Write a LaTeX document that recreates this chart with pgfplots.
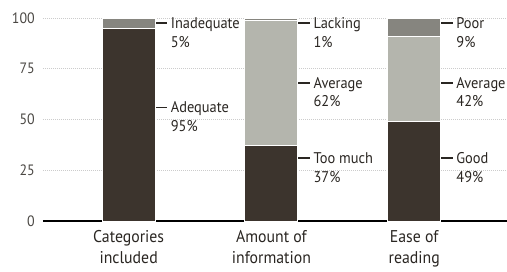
\documentclass[border=0pt]{standalone}
\usepackage{pgfplots}
\pgfplotsset{compat=1.18}
\usepackage{fontspec}
\setmainfont{PT Sans}[FakeStretch=0.93]
\definecolor{cdark}{HTML}{3C342D}
\definecolor{clight}{HTML}{B4B5AD}
\definecolor{cmid}{HTML}{86857F}
\definecolor{ctxt}{HTML}{2A2622}
\newcommand{\lab}[5]{%
 \draw[#3,line width=1.4pt] ([xshift=18pt]axis cs:#1,#2) -- ([xshift=26.5pt]axis cs:#1,#2);
 \draw[ctxt,line width=1.4pt] ([xshift=26.5pt]axis cs:#1,#2) -- ([xshift=38.5pt]axis cs:#1,#2);
 \node[anchor=base west,inner sep=0pt,font=\fontsize{15.5}{17}\selectfont,text=ctxt] at ([xshift=42pt,yshift=-5.5pt]axis cs:#1,#2) {#4};
 \node[anchor=base west,inner sep=0pt,font=\fontsize{15.5}{17}\selectfont,text=ctxt] at ([xshift=42pt,yshift=-24pt]axis cs:#1,#2) {#5};
}
\begin{document}
\begin{tikzpicture}
\useasboundingbox (0,0) rectangle (507pt,271pt);
\begin{axis}[
  at={(43pt,50pt)}, anchor=south west,
  scale only axis, width=464pt, height=203pt,
  xmin=-0.6, xmax=2.65, ymin=0, ymax=100,
  ybar stacked, bar width=53pt,
  clip=false,
  axis x line*=bottom, axis y line*=left,
  x axis line style={draw=none}, y axis line style={draw=none},
  major tick length=0pt,
  xtick={0,1,2},
  xticklabels={{Categories\\included},{Amount of\\information},{Ease of\\reading}},
  xticklabel style={align=center, font=\fontsize{17}{21}\selectfont, text=ctxt, inner sep=0pt, yshift=-9pt},
  ytick={0,25,50,75,100},
  yticklabel style={font=\fontsize{15}{16}\selectfont, text=ctxt!85, inner sep=0pt, xshift=-8pt},
  /pgf/number format/assume math mode=true,
  ymajorgrids,
  grid style={gray!40, line width=0.6pt, dash pattern=on 1pt off 1pt},
]
\addplot[fill=cdark, draw=white, line width=1pt] coordinates {(0,95) (1,37) (2,49)};
\addplot[fill=clight, draw=white, line width=1pt] coordinates {(0,0) (1,62) (2,42)};
\addplot[fill=cmid, draw=white, line width=1pt] coordinates {(0,5) (1,1) (2,9)};
\draw[black, line width=1.6pt] (rel axis cs:0,0) -- (rel axis cs:1,0);
\lab{0}{97.5}{white}{Inadequate}{5\%}
\lab{0}{56}{white}{Adequate}{95\%}
\lab{1}{97.5}{white}{Lacking}{1\%}
\lab{1}{68}{ctxt}{Average}{62\%}
\lab{1}{31}{white}{Too much}{37\%}
\lab{2}{97.5}{white}{Poor}{9\%}
\lab{2}{68}{ctxt}{Average}{42\%}
\lab{2}{31}{white}{Good}{49\%}
\end{axis}
\end{tikzpicture}
\end{document}
